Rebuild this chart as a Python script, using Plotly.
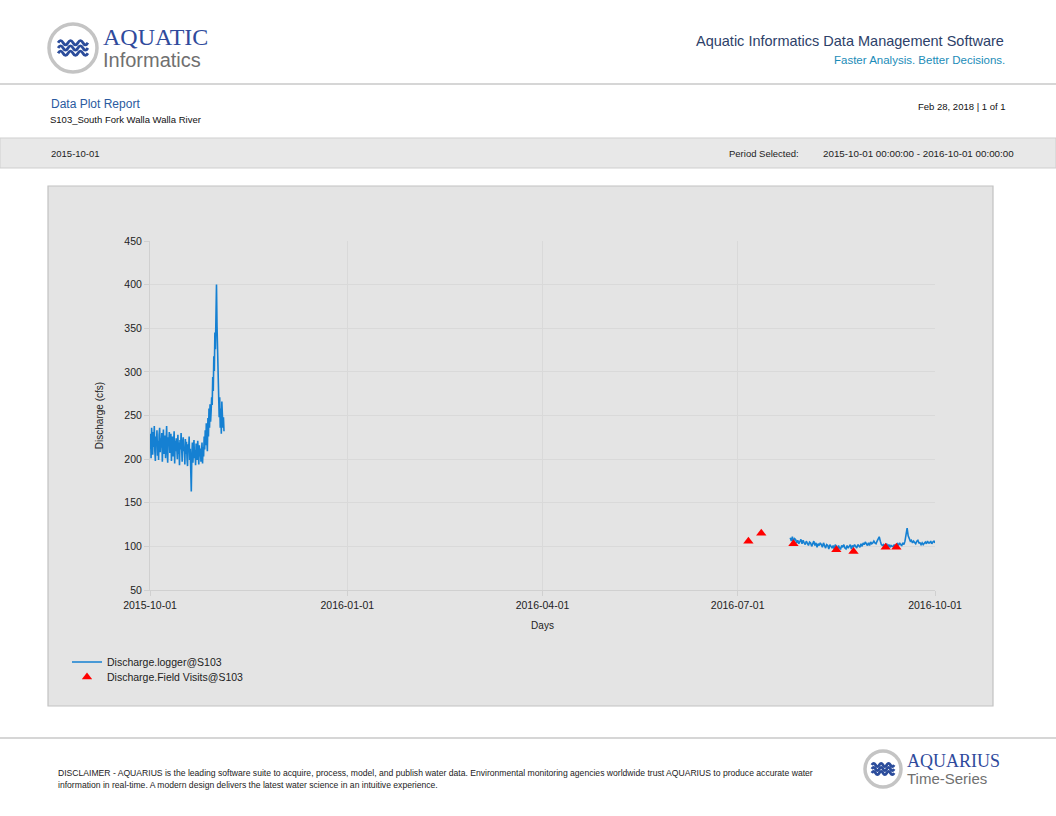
import pandas as pd
import plotly.graph_objects as go


# Report page is laid out in pixels, converted to paper coords below
W, H = 1056, 816

# Discharge.logger@S103, first block (6-hourly from 2015-10-01 00:00)
logger1_start = "2015-10-01 00:00"
logger1_cfs = [
    212, 229, 201, 236, 222, 205, 231, 214, 238, 209, 198, 226,
    217, 233, 204, 221, 199, 228, 236, 208, 224, 213, 230, 197,
    219, 234, 206, 215, 227, 201, 222, 238, 210, 196, 225, 218,
    231, 207, 214, 229, 198, 220, 226, 203, 216, 232, 195, 221,
    209, 224, 212, 200, 228, 206, 219, 193, 222, 211, 230, 204,
    197, 218, 225, 209, 214, 194, 223, 206, 220, 201, 192, 217,
    208, 226, 199, 212, 187, 163, 204, 219, 196, 213, 222, 201,
    210, 193, 218, 205, 199, 221, 207, 194, 216, 203, 212, 197,
    208, 219, 195, 214, 203, 226, 211, 233, 216, 241, 222, 209,
    247, 226, 258, 236, 263, 243, 255, 271, 262, 294, 278, 318,
    301, 345, 326, 368, 400, 352, 318, 290, 262, 248, 271, 236,
    258, 229, 266, 241, 236, 248, 232,
]

# Discharge.logger@S103, second block (12-hourly from 2016-07-25 12:00)
logger2_start = "2016-07-25 12:00"
logger2_cfs = [
    110, 106, 111, 105, 109, 108, 104, 107, 103, 106, 108, 103,
    107, 104, 102, 106, 104, 101, 105, 104, 100, 103, 106, 101,
    104, 99, 103, 101, 104, 102, 99, 104, 101, 98, 102, 101,
    97, 102, 100, 98, 101, 97, 102, 100, 96, 101, 98, 97,
    101, 99, 102, 98, 97, 101, 98, 100, 102, 97, 101, 99,
    102, 100, 98, 102, 100, 99, 103, 100, 104, 102, 105, 102,
    101, 104, 101, 105, 103, 104, 106, 104, 103, 106, 108, 111,
    106, 102, 101, 102, 99, 101, 103, 99, 102, 99, 101, 100,
    100, 102, 99, 101, 103, 101, 104, 102, 101, 104, 102, 106,
    114, 121, 112, 108, 106, 107, 104, 106, 105, 103, 106, 107,
    104, 104, 102, 104, 102, 103, 105, 103, 106, 104, 104, 106,
    103, 105, 106, 104,
]

# Discharge.Field Visits@S103
visit_dates = ["2016-07-06", "2016-07-12", "2016-07-27", "2016-08-16",
               "2016-08-24", "2016-09-08", "2016-09-13"]
visit_cfs = [106, 115, 103, 96, 94, 99, 99]

x_ticks = ["2015-10-01", "2016-01-01", "2016-04-01", "2016-07-01", "2016-10-01"]
y_ticks = [50, 100, 150, 200, 250, 300, 350, 400, 450]

FONT = "Liberation Sans, Arial, sans-serif"
BLUE_LINE = "#1580d2"


def px(x):
    return x / W


def py(y):
    return 1 - y / H


def text(fig, s, x, y, size, color="#222", anchor="left", family=FONT):
    fig.add_annotation(text=s, x=px(x), y=py(y), xref="paper", yref="paper",
                       xanchor=anchor, yanchor="middle", showarrow=False,
                       borderpad=0,
                       font=dict(size=size, color=color, family=family))


def rect(fig, x0, y0, x1, y1, fill, line="rgba(0,0,0,0)", width=1, layer="below"):
    fig.add_shape(type="rect", xref="paper", yref="paper",
                  x0=px(x0), y0=py(y0), x1=px(x1), y1=py(y1),
                  fillcolor=fill, line=dict(color=line, width=width), layer=layer)


def hline(fig, y, x0=0, x1=W, color="#c8c8c8"):
    fig.add_shape(type="line", xref="paper", yref="paper",
                  x0=px(x0), y0=py(y), x1=px(x1), y1=py(y),
                  line=dict(color=color, width=1.5), layer="below")


def logo(fig, cx, cy, r, word1, word2, s1, s2):
    # grey ring with three blue waves, then the two words
    fig.add_shape(type="circle", xref="paper", yref="paper",
                  x0=px(cx - r), y0=py(cy - r), x1=px(cx + r), y1=py(cy + r),
                  fillcolor="white", line=dict(color="#c4c4c4", width=3.5), layer="above")
    ww = r * 0.62
    for dy in (-r * 0.22, 0, r * 0.22):
        y0 = cy + dy
        step = ww / 3
        path = "M %f,%f" % (px(cx - ww), py(y0))
        xx = cx - ww
        for i in range(6):
            amp = -r * 0.09 if i % 2 == 0 else r * 0.09
            path += " Q %f,%f %f,%f" % (px(xx + step / 2), py(y0 + amp * 2),
                                        px(xx + step), py(y0))
            xx += step
        fig.add_shape(type="path", path=path, xref="paper", yref="paper",
                      line=dict(color="#2b4c9b", width=2.8), layer="above")
    text(fig, word1, cx + r + 5, cy - r * 0.45, s1, "#2f4a9c", family="Liberation Serif, serif")
    text(fig, word2, cx + r + 5, cy + r * 0.5, s2, "#707070", family="Liberation Sans, sans-serif")


fig = go.Figure()

t1 = pd.date_range(logger1_start, periods=len(logger1_cfs), freq="6h")
t2 = pd.date_range(logger2_start, periods=len(logger2_cfs), freq="12h")
gap_t = [t1[-1] + pd.Timedelta(hours=6)]

fig.add_trace(go.Scatter(x=list(t1) + gap_t + list(t2),
                         y=logger1_cfs + [None] + logger2_cfs,
                         mode="lines", name="Discharge.logger@S103",
                         line=dict(color=BLUE_LINE, width=1.6),
                         connectgaps=False, legend="legend"))

fig.add_trace(go.Scatter(x=pd.to_datetime(visit_dates), y=visit_cfs,
                         mode="markers", name="Discharge.Field Visits@S103",
                         marker=dict(symbol="triangle-up", size=9, color="#ff0000"),
                         legend="legend2"))

legend_style = dict(xanchor="left", yanchor="middle", bgcolor="rgba(0,0,0,0)",
                    font=dict(size=10.5, color="#222"), itemwidth=30,
                    borderwidth=0)

fig.update_layout(
    width=W, height=H,
    margin=dict(l=0, r=0, t=0, b=0, pad=0, autoexpand=False),
    paper_bgcolor="white",
    plot_bgcolor="white",
    font=dict(family=FONT, size=10, color="#222"),
    showlegend=True,
    legend=dict(x=px(67), y=py(662), **legend_style),
    legend2=dict(x=px(67), y=py(677), **legend_style),
    xaxis=dict(domain=[px(150), px(935)],
               range=["2015-10-01", "2016-10-01"],
               tickvals=x_ticks, ticktext=x_ticks,
               showgrid=True, gridcolor="#d9d9d9",
               showline=True, linecolor="#d0d0d0",
               ticks="outside", ticklen=5, tickcolor="#d0d0d0",
               tickfont=dict(size=10.5, color="#222"),
               title=dict(text="Days", font=dict(size=10, color="#222"), standoff=12),
               zeroline=False, automargin=False),
    yaxis=dict(domain=[py(590), py(241)],
               range=[50, 450], tickvals=y_ticks,
               showgrid=True, gridcolor="#d9d9d9",
               showline=True, linecolor="#d0d0d0",
               ticks="outside", ticklen=5, tickcolor="#d0d0d0",
               tickfont=dict(size=10.5, color="#222"),
               title=dict(text="Discharge (cfs)", font=dict(size=10, color="#222"), standoff=18),
               zeroline=False, automargin=False),
)

# page furniture
hline(fig, 84)
rect(fig, 0, 138, W, 168, "#e8e8e8", line="#cfcfcf")
rect(fig, 48, 186, 993, 706, "#e4e4e4", line="#c2c2c2", width=1.2)
hline(fig, 738)

logo(fig, 73, 48, 24, "AQUATIC", "Informatics", 24, 20)
logo(fig, 883, 769, 18, "AQUARIUS", "Time-Series", 18, 15)

text(fig, "Aquatic Informatics Data Management Software", 1005, 41, 14.5, "#2d4169", "right")
text(fig, "Faster Analysis. Better Decisions.", 1006, 60, 11.5, "#1b8cb8", "right")

text(fig, "Data Plot Report", 50, 104, 12, "#2a5aa0")
text(fig, "S103_South Fork Walla Walla River", 49, 119, 9.5, "#111")
text(fig, "Feb 28, 2018 | 1 of 1", 1007, 107, 9.5, "#111", "right")

text(fig, "2015-10-01", 50, 153, 9.5, "#222")
text(fig, "Period Selected:", 728, 153, 9.5, "#222")
text(fig, "2015-10-01 00:00:00 - 2016-10-01 00:00:00", 1015, 153, 9.8, "#222", "right")

text(fig, "DISCLAIMER - AQUARIUS is the leading software suite to acquire, process, model, and publish water data. "
          "Environmental monitoring agencies worldwide trust AQUARIUS to produce accurate water",
     57, 773, 8.6, "#222")
text(fig, "information in real-time. A modern design delivers the latest water science in an intuitive experience.",
     57, 785, 8.6, "#222")

fig.write_html("out.html", config={"displayModeBar": False},
               post_script="document.body.style.margin='0';")
